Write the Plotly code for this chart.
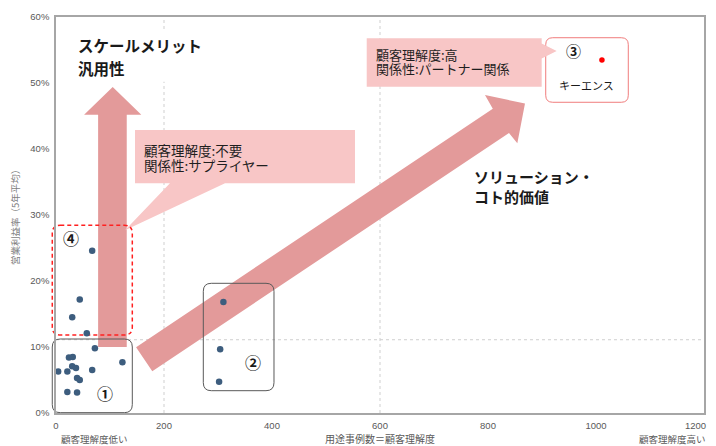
import plotly.graph_objects as go

# ---------------- data ----------------
# group ①: low customer understanding, low margin
g1_cases = [72, 24, 31, 4, 21, 30, 37, 39, 44, 67, 123, 21, 39]
g1_margin = [0.098, 0.084, 0.085, 0.063, 0.063, 0.071, 0.068, 0.053, 0.050, 0.065, 0.077, 0.032, 0.031]
# group ④: low customer understanding, high margin (scale merit)
g4_cases = [67, 44, 30, 57]
g4_margin = [0.246, 0.172, 0.145, 0.121]
# group ②: mid customer understanding
g2_cases = [310, 304, 302]
g2_margin = [0.168, 0.0965, 0.0474]
# group ③: Keyence
g3_cases = [1011]
g3_margin = [0.535]

x_ticks = [0, 200, 400, 600, 800, 1000, 1200]
y_ticks = [0, 0.1, 0.2, 0.3, 0.4, 0.5, 0.6]
ref_x = [200, 600]
ref_y = [0.111]

X_MAX, Y_MAX = 1200, 0.6
PW, PH = 648, 396  # plot area in px
FIG_W, FIG_H = 700, 438
ML, MT = 48, 9
MR, MB = FIG_W - ML - PW, FIG_H - MT - PH

def X(v):
    return v / X_MAX

def Y(v):
    return v / Y_MAX

def path(points):
    return "M " + " L ".join(f"{X(a):.5f},{Y(b):.5f}" for a, b in points) + " Z"

def rrect(x0, y0, x1, y1, r):
    rx, ry = r / PW, r / PH
    a0, a1, b0, b1 = X(x0), X(x1), Y(y0), Y(y1)  # y0 bottom, y1 top
    return (f"M {a0+rx},{b1} L {a1-rx},{b1} Q {a1},{b1} {a1},{b1-ry} "
            f"L {a1},{b0+ry} Q {a1},{b0} {a1-rx},{b0} L {a0+rx},{b0} "
            f"Q {a0},{b0} {a0},{b0+ry} L {a0},{b1-ry} Q {a0},{b1} {a0+rx},{b1} Z")

ARROW = "#e39a9a"
CALLOUT = "#f8c6c6"
JP = "Noto Sans CJK JP"
GRAY = "#595959"
TICKFONT = "Liberation Sans, Arial"

fig = go.Figure()
for xs, ys in [(g1_cases, g1_margin), (g4_cases, g4_margin), (g2_cases, g2_margin)]:
    fig.add_trace(go.Scatter(x=xs, y=ys, mode="markers",
                             marker=dict(size=6.5, color="#3d5d7e"),
                             showlegend=False, hoverinfo="x+y"))
fig.add_trace(go.Scatter(x=g3_cases, y=g3_margin, mode="markers",
                         marker=dict(size=5.5, color="#ff0000"),
                         showlegend=False, hoverinfo="x+y"))

shapes = []
# reference lines
for v in ref_x:
    shapes.append(dict(type="line", xref="paper", yref="paper", x0=X(v), x1=X(v), y0=0, y1=1,
                       line=dict(color="#cfcfcf", width=1, dash="dot"), layer="below"))
for v in ref_y:
    shapes.append(dict(type="line", xref="paper", yref="paper", x0=0, x1=1, y0=Y(v), y1=Y(v),
                       line=dict(color="#cfcfcf", width=1, dash="dot"), layer="below"))
# white backing behind the upper-left heading
shapes.append(dict(type="rect", xref="paper", yref="paper", x0=X(29), x1=X(270), y0=Y(0.502), y1=Y(0.579),
                   fillcolor="white", line=dict(width=0), layer="below"))
# vertical arrow
shapes.append(dict(type="path", xref="paper", yref="paper", layer="below",
                   path=path([(78, 0.10), (131, 0.10), (131, 0.452), (158, 0.452),
                              (105, 0.494), (52, 0.452), (78, 0.452)]),
                   fillcolor=ARROW, line=dict(width=0)))
# diagonal arrow
shapes.append(dict(type="path", xref="paper", yref="paper", layer="below",
                   path=path([(148.3, 0.0998), (178.3, 0.0632), (838.9, 0.4244), (854.3, 0.4086),
                              (868.5, 0.4689), (794.4, 0.4818), (808.9, 0.461)]),
                   fillcolor=ARROW, line=dict(width=0)))
# callout 1
shapes.append(dict(type="path", xref="paper", yref="paper", layer="below",
                   path=path([(146.3, 0.4288), (553.7, 0.4288), (553.7, 0.348), (313, 0.348),
                              (127.8, 0.277), (211, 0.348), (146.3, 0.348)]),
                   fillcolor=CALLOUT, line=dict(width=0)))
# boxes
shapes.append(dict(type="path", xref="paper", yref="paper", layer="below",
                   path=rrect(-6.9, 0.1182, 141.3, 0.2844, 8),
                   line=dict(color="#ff2020", width=1.5, dash="4px,3px")))
shapes.append(dict(type="path", xref="paper", yref="paper", layer="below",
                   path=rrect(-6.9, 0.0005, 141.3, 0.1121, 8),
                   line=dict(color="#595959", width=1)))
shapes.append(dict(type="path", xref="paper", yref="paper", layer="below",
                   path=rrect(272.8, 0.0338, 403.7, 0.1965, 8),
                   line=dict(color="#595959", width=1)))
shapes.append(dict(type="path", xref="paper", yref="paper", layer="below",
                   path=rrect(906.9, 0.4708, 1059.8, 0.5686, 7),
                   fillcolor="white", line=dict(color="#f07c7c", width=1)))
# callout 2
shapes.append(dict(type="path", xref="paper", yref="paper", layer="below",
                   path=path([(575.4, 0.5677), (899.4, 0.5677), (899.4, 0.560), (927.2, 0.5485),
                              (899.4, 0.537), (899.4, 0.4944), (575.4, 0.4944)]),
                   fillcolor=CALLOUT, line=dict(width=0)))

ann = []
def txt(x, y, s, size, bold=False, xanchor="left", color="#1a1a1a", family=JP):
    ann.append(dict(x=x, y=y, xref="x", yref="y", text=f"<b>{s}</b>" if bold else s,
                    showarrow=False, xanchor=xanchor, yanchor="middle", borderpad=0,
                    font=dict(size=size, color=color, family=family)))

txt(39.4, 0.557, "スケールメリット", 15.5, True)
txt(39.4, 0.522, "汎用性", 15.5, True)
txt(772.8, 0.359, "ソリューション・", 15, True)
txt(772.8, 0.328, "コト的価値", 15, True)
txt(161.7, 0.3985, "顧客理解度:不要", 13.5, color="#1f1f1f")
txt(161.7, 0.3758, "関係性:サプライヤー", 13.5, color="#1f1f1f")
txt(590.7, 0.5435, "顧客理解度:高", 13, color="#1f1f1f")
txt(590.7, 0.5223, "関係性:パートナー関係", 13, color="#1f1f1f")
txt(90.7, 0.0298, "①", 16, True, xanchor="center")
txt(365.4, 0.0777, "②", 16, True, xanchor="center")
txt(958, 0.55, "③", 15, True, xanchor="center")
txt(27.2, 0.2647, "④", 16, True, xanchor="center")
txt(982.8, 0.497, "キーエンス", 11, xanchor="center")

# last x tick label drawn as a right-anchored text so it stays inside the visible page
ann.append(dict(x=(708 - 56) / PW, y=(413 - 425) / PH, xref="paper", yref="paper",
                text=str(x_ticks[-1]), showarrow=False, xanchor="right", yanchor="middle",
                font=dict(size=9.5, color=GRAY, family=TICKFONT)))

BOTTOM_Y = (413 - 438.5) / PH
ann.append(dict(x=(94 - 56) / PW, y=BOTTOM_Y, xref="paper", yref="paper",
                text="顧客理解度低い", showarrow=False, xanchor="center", yanchor="middle",
                font=dict(size=9.5, color=GRAY, family=JP)))
ann.append(dict(x=0.5, y=BOTTOM_Y, xref="paper", yref="paper",
                text="用途事例数＝顧客理解度", showarrow=False, xanchor="center", yanchor="middle",
                font=dict(size=10, color=GRAY, family=JP)))
ann.append(dict(x=(708 - 56) / PW, y=BOTTOM_Y, xref="paper", yref="paper",
                text="顧客理解度高い", showarrow=False, xanchor="right", yanchor="middle",
                font=dict(size=9.5, color=GRAY, family=JP)))
ann.append(dict(x=(15 - 56) / PW, y=0.5, xref="paper", yref="paper", textangle=-90,
                text="営業利益率（5年平均）", showarrow=False, xanchor="center", yanchor="middle",
                font=dict(size=9.5, color="#7f7f7f", family=JP)))

# the page adds an 8px body margin, so margins are shifted to keep the plot area in place
fig.update_layout(
    width=FIG_W, height=FIG_H, autosize=False,
    margin=dict(l=ML, r=MR, t=MT, b=MB, pad=0, autoexpand=False),
    paper_bgcolor="white", plot_bgcolor="rgba(0,0,0,0)",
    shapes=shapes, annotations=ann, showlegend=False,
    font=dict(family=JP),
)
axis_common = dict(showgrid=False, zeroline=False, showline=True, linecolor="#a6a6a6",
                   linewidth=1.5, mirror=True, ticks="outside", ticklen=3,
                   tickcolor="rgba(0,0,0,0)", automargin=False,
                   tickfont=dict(size=9.5, color=GRAY, family=TICKFONT))
fig.update_xaxes(range=[0, X_MAX], tickmode="array", tickvals=x_ticks[:-1],
                 ticktext=[str(v) for v in x_ticks[:-1]], **axis_common)
fig.update_yaxes(range=[0, Y_MAX], tickmode="array", tickvals=y_ticks,
                 ticktext=[f"{int(round(v*100))}%" for v in y_ticks], **axis_common)

fig.write_html("out.html")
